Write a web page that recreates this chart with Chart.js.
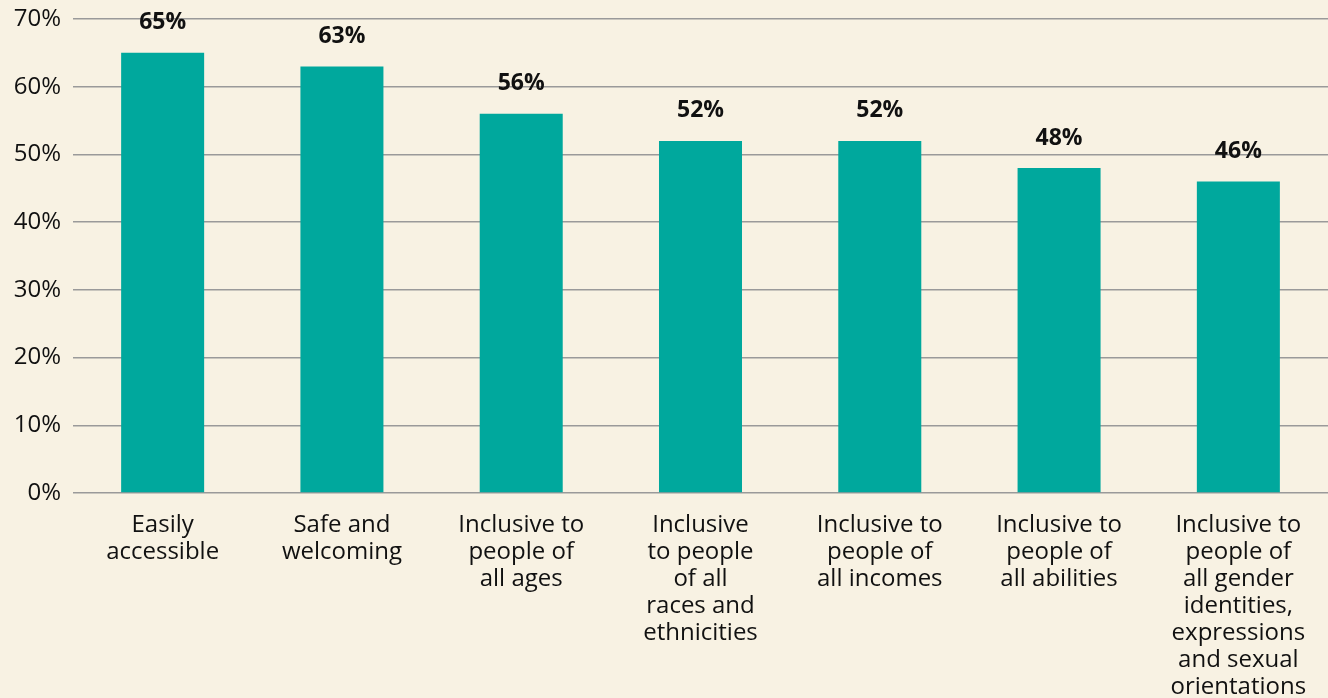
<!DOCTYPE html>
<html>
<head>
<meta charset="utf-8">
<script src="https://cdn.jsdelivr.net/npm/chart.js@4"></script>
<style>
  html, body { margin: 0; padding: 0; background: #f8f2e3; }
  #wrap { width: 1328px; height: 698px; }
</style>
</head>
<body>
<div id="wrap"><canvas id="chart"></canvas></div>
<script>
// Kategori dan nilai (persen)
var categories = [
  ['Easily', 'accessible'],
  ['Safe and', 'welcoming'],
  ['Inclusive to', 'people of', 'all ages'],
  ['Inclusive', 'to people', 'of all', 'races and', 'ethnicities'],
  ['Inclusive to', 'people of', 'all incomes'],
  ['Inclusive to', 'people of', 'all abilities'],
  ['Inclusive to', 'people of', 'all gender', 'identities,', 'expressions', 'and sexual', 'orientations']
];
var values = [65, 63, 56, 52, 52, 48, 46];
var yTicks = [0, 10, 20, 30, 40, 50, 60, 70];

var FONT = '"Open Sans", Lato, sans-serif';

// label nilai di atas batang (pengganti plugin datalabels)
var barLabels = {
  id: 'barLabels',
  afterDatasetsDraw: function(chart){
    var ctx = chart.ctx;
    var meta = chart.getDatasetMeta(0);
    ctx.save();
    ctx.font = 'bold 23px ' + FONT;
    ctx.fillStyle = '#111';
    ctx.textAlign = 'center';
    ctx.textBaseline = 'middle';
    meta.data.forEach(function(bar, i){
      ctx.fillText(values[i] + '%', bar.x, bar.y - 30);
    });
    ctx.restore();
  }
};

new Chart(document.getElementById('chart').getContext('2d'), {
  type: 'bar',
  data: {
    labels: categories,
    datasets: [{
      data: values,
      backgroundColor: '#00a89d',
      borderWidth: 0,
      categoryPercentage: 1,
      barPercentage: 0.463
    }]
  },
  options: {
    responsive: true,
    maintainAspectRatio: false,
    animation: false,
    layout: { padding: 0 },
    plugins: { legend: { display: false }, tooltip: { enabled: false } },
    scales: {
      x: {
        grid: { display: false },
        border: { display: false },
        ticks: {
          color: '#111',
          font: { family: FONT, size: 24, lineHeight: 1.125 },
          padding: 11,
          maxRotation: 0,
          autoSkip: false
        },
        afterFit: function(scale){ scale.height = 205; }
      },
      y: {
        min: 0,
        max: 70,
        afterBuildTicks: function(scale){
          scale.ticks = yTicks.map(function(v){ return { value: v }; });
        },
        grid: { color: '#9a9a9a', lineWidth: 1.5, drawTicks: false },
        border: { display: false },
        ticks: {
          color: '#111',
          font: { family: FONT, size: 24 },
          padding: 12,
          callback: function(v){ return v + '%'; }
        },
        afterFit: function(scale){
          scale.width = 73;
          scale.paddingTop = 19;
          scale.paddingBottom = 0;
        }
      }
    }
  },
  plugins: [barLabels]
});
</script>
</body>
</html>
